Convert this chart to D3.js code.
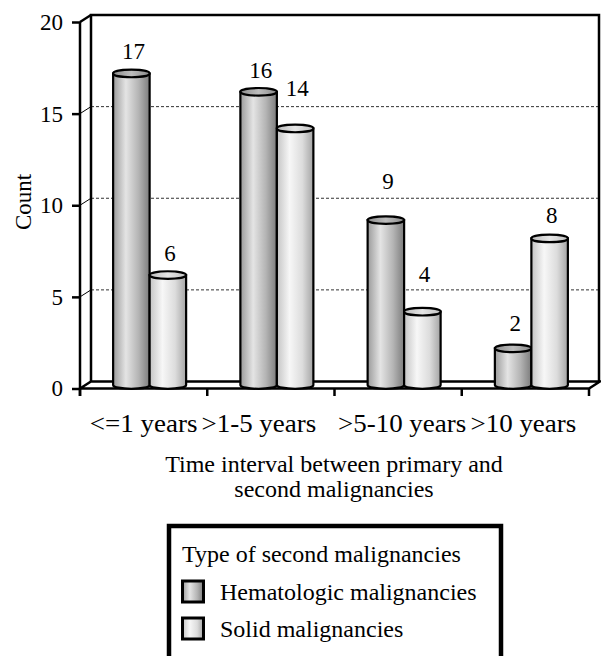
<!DOCTYPE html>
<html>
<head>
<meta charset="utf-8">
<script src="https://cdn.jsdelivr.net/npm/d3@7"></script>
<style>
  html, body { margin: 0; padding: 0; background: #fff; }
  svg { display: block; }
  text { font-family: "Liberation Serif", "Times New Roman", serif; fill: #000; }
</style>
</head>
<body>
<svg id="chart" width="601" height="656"></svg>
<script>
// Counts of second malignancies by time since the primary one
const categories = ["<=1 years", ">1-5 years", ">5-10 years", ">10 years"];
const seriesNames = ["Hematologic malignancies", "Solid malignancies"];
const hematologic = [17, 16, 9, 2];
const solid = [6, 14, 4, 8];
const yTicks = [0, 5, 10, 15, 20];

// How far each value label sits above its bar top (px)
const hematologicLabelLift = [11, 10, 27, 14];
const solidLabelLift = [10, 29, 26, 12];
// Horizontal nudge of each category label so neighbours don't collide (px)
const categoryLabelNudge = [0, -12, 4, -2];

const svg = d3.select("#chart");
const defs = svg.append("defs");

// pseudo-3D box depth
const DX = 11, DY = -7;
const left = 80, right = 589;

const y = d3.scaleLinear().domain([0, 20]).range([388.5, 22]);
const x0 = d3.scaleBand().domain(categories).range([left, right]).padding(0);
const bw = x0.bandwidth();
const barW = 36.5;
const x1 = d3.scaleBand().domain(seriesNames).range([-barW, barW]).padding(0);

// cylinder shading gradients
function cylGradient(id, stops) {
  const g = defs.append("linearGradient").attr("id", id)
    .attr("x1", "0%").attr("x2", "100%").attr("y1", "0%").attr("y2", "0%");
  stops.forEach(([o, c]) => g.append("stop").attr("offset", o).attr("stop-color", c));
}
cylGradient("gHem", [["0%", "#9a9a9a"], ["35%", "#e4e4e4"], ["70%", "#b4b4b4"], ["100%", "#7c7c7c"]]);
cylGradient("gSolid", [["0%", "#c4c4c4"], ["35%", "#f7f7f7"], ["70%", "#dcdcdc"], ["100%", "#a4a4a4"]]);
cylGradient("gHemTop", [["0%", "#8c8c8c"], ["50%", "#bdbdbd"], ["100%", "#8a8a8a"]]);
cylGradient("gSolidTop", [["0%", "#bcbcbc"], ["50%", "#e6e6e6"], ["100%", "#c0c0c0"]]);

const fills = { [seriesNames[0]]: "url(#gHem)", [seriesNames[1]]: "url(#gSolid)" };
const topFills = { [seriesNames[0]]: "url(#gHemTop)", [seriesNames[1]]: "url(#gSolidTop)" };

const frame = svg.append("g").attr("fill", "none").attr("stroke", "#000");

// back wall gridlines (dashed) and side-wall connectors
yTicks.filter(t => t > 0 && t < 20).forEach(t => {
  frame.append("line")
    .attr("x1", left + DX).attr("x2", 599)
    .attr("y1", y(t) + DY).attr("y2", y(t) + DY)
    .attr("stroke", "#333").attr("stroke-width", 1).attr("stroke-dasharray", "3,2");
  frame.append("line")
    .attr("x1", left).attr("x2", left + DX)
    .attr("y1", y(t)).attr("y2", y(t) + DY)
    .attr("stroke-width", 1);
});

// back wall outline
frame.append("path")
  .attr("d", `M${left + DX},${y(0) + DY} V${y(20) + DY} H599 V${y(0) + DY}`)
  .attr("stroke-width", 2.5);
frame.append("line")
  .attr("x1", left).attr("y1", y(20)).attr("x2", left + DX).attr("y2", y(20) + DY)
  .attr("stroke-width", 2.5);

// floor
frame.append("path")
  .attr("d", `M${left},${y(0)} L${left + DX},${y(0) + DY} H${right + DX} L${right},${y(0)} Z`)
  .attr("stroke-width", 2.5);

// front value axis
frame.append("line")
  .attr("x1", left).attr("x2", left).attr("y1", y(20)).attr("y2", y(0) + 7.5)
  .attr("stroke-width", 2.5);

const yAxis = svg.append("g")
  .attr("transform", `translate(${left},0)`)
  .call(d3.axisLeft(y).tickValues(yTicks).tickSize(8).tickPadding(9).tickFormat(d3.format("d")));
yAxis.select(".domain").remove();
yAxis.selectAll(".tick line").attr("stroke", "#000").attr("stroke-width", 2.5);
yAxis.selectAll(".tick text")
  .style("font-family", '"Liberation Serif", "Times New Roman", serif')
  .style("font-size", "23px").attr("fill", "#000");

// category boundary ticks
const bounds = categories.map(c => x0(c)).concat([right]);
frame.selectAll("line.xtick").data(bounds).join("line")
  .attr("class", "xtick")
  .attr("x1", d => d).attr("x2", d => d)
  .attr("y1", y(0)).attr("y2", y(0) + 7.5)
  .attr("stroke-width", 2.5);

// category labels
svg.append("g").selectAll("text").data(categories).join("text")
  .attr("transform", (d, i) => `translate(${x0(d) + bw / 2 + categoryLabelNudge[i]},432) scale(1.08,1)`)
  .attr("text-anchor", "middle")
  .style("font-size", "25px")
  .text(d => d);

// cylinders
const rows = [];
categories.forEach((c, i) => {
  rows.push({ cat: c, series: seriesNames[0], value: hematologic[i], lift: hematologicLabelLift[i] });
  rows.push({ cat: c, series: seriesNames[1], value: solid[i], lift: solidLabelLift[i] });
});

const baseY = y(0) + DY / 2;
const ry = 3.8;
const rx = x1.bandwidth() / 2;
const bars = svg.append("g");

rows.forEach(d => {
  const cx = x0(d.cat) + bw / 2 + 6 + x1(d.series) + rx;
  const topY = baseY - (y(0) - y(d.value));
  const g = bars.append("g");
  g.append("path")
    .attr("d", `M${cx - rx},${topY} V${baseY} A${rx},${ry} 0 0 0 ${cx + rx},${baseY} V${topY} Z`)
    .attr("fill", fills[d.series])
    .attr("stroke", "#000").attr("stroke-width", 2.2);
  g.append("ellipse")
    .attr("cx", cx).attr("cy", topY).attr("rx", rx).attr("ry", ry)
    .attr("fill", topFills[d.series])
    .attr("stroke", "#000").attr("stroke-width", 2.2);
  g.append("text")
    .attr("x", cx + 2).attr("y", topY - ry - d.lift)
    .attr("text-anchor", "middle")
    .style("font-size", "23px")
    .text(d.value);
});

// axis titles
svg.append("text")
  .attr("transform", "translate(31,202) rotate(-90)")
  .attr("text-anchor", "middle")
  .style("font-size", "23px")
  .text("Count");

const xTitle = svg.append("text")
  .attr("text-anchor", "middle")
  .style("font-size", "24px");
xTitle.append("tspan").attr("x", 334).attr("y", 472).text("Time interval between primary and");
xTitle.append("tspan").attr("x", 334).attr("y", 497).text("second malignancies");

// legend
const lg = svg.append("g");
lg.append("rect")
  .attr("x", 169).attr("y", 526).attr("width", 332).attr("height", 150)
  .attr("fill", "#fff").attr("stroke", "#000").attr("stroke-width", 4.5);
lg.append("text").attr("x", 182).attr("y", 562).style("font-size", "24px")
  .text("Type of second malignancies");
const legendFills = [fills[seriesNames[0]], fills[seriesNames[1]]];
seriesNames.forEach((s, i) => {
  const yy = 581 + i * 37;
  lg.append("rect")
    .attr("x", 182.5).attr("y", yy).attr("width", 21).attr("height", 21)
    .attr("fill", legendFills[i]).attr("stroke", "#000").attr("stroke-width", 3);
  lg.append("text").attr("x", 220).attr("y", yy + 19).style("font-size", "24px").text(s);
});
</script>
</body>
</html>
